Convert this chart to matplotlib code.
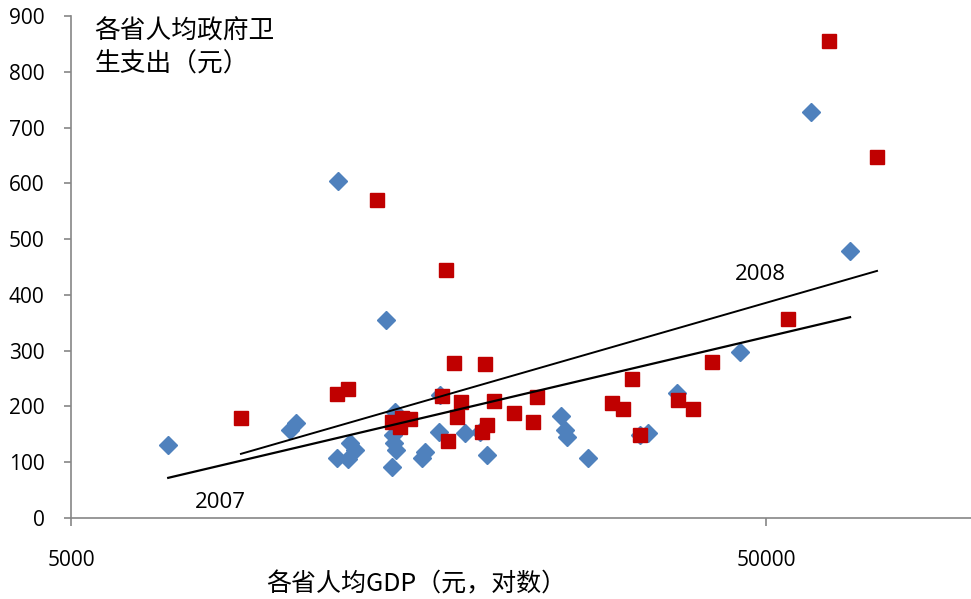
import matplotlib

matplotlib.use("Agg")
import matplotlib.pyplot as plt
from matplotlib.ticker import FixedLocator, NullLocator, FixedFormatter

# per-capita GDP (yuan) and per-capita gov. health spending (yuan), by province
gdp_2007 = [6900, 12110, 58030, 66050, 14200, 45880, 37230, 16980, 10330, 10540,
            12070, 12600, 12810, 12520, 14630, 14530, 14580, 14680, 14480, 16000,
            16160, 16920, 18450, 19380, 19840, 25350, 25690, 25860, 27730, 32930,
            33820]
health_2007 = [131, 604, 728, 479, 355, 298, 224, 220, 158, 170,
               108, 134, 122, 106, 190, 149, 134, 122, 91, 108,
               118, 154, 152, 154, 113, 183, 158, 145, 108, 149,
               152]

gdp_2008 = [61600, 72220, 13780, 17320, 17780, 19710, 53780, 41820, 12070, 12520,
            8780, 32070, 17090, 18200, 17960, 20300, 17430, 21700, 23410, 23100,
            19840, 19510, 30010, 31130, 32930, 37350, 39260, 14480, 14870, 14970,
            15370]
health_2008 = [855, 647, 570, 445, 278, 276, 357, 280, 222, 231,
               179, 249, 219, 208, 181, 210, 138, 188, 217, 172,
               167, 154, 206, 195, 149, 212, 195, 172, 163, 179,
               177]

# trend line end points
trend_2007_x = [6900, 66050]
trend_2007_y = [72, 360]
trend_2008_x = [8780, 72220]
trend_2008_y = [115, 443]

x_ticks = [5000, 50000]
x_tick_labels = ["5000", "50000"]
y_ticks = [0, 100, 200, 300, 400, 500, 600, 700, 800, 900]

plt.rcParams["font.family"] = ["Open Sans", "Noto Sans CJK SC", "DejaVu Sans"]
cjk = ["Noto Sans CJK SC", "DejaVu Sans"]

fig = plt.figure(figsize=(9.71, 5.99), dpi=100)
ax = fig.add_axes([71 / 971, 1 - 518 / 599, 900 / 971, 502 / 599])

ax.plot(gdp_2007, health_2007, linestyle="none", marker="D", ms=9,
        color="#4F81BD", zorder=3)
ax.plot(gdp_2008, health_2008, linestyle="none", marker="s", ms=10.5,
        color="#C00000", zorder=4)
ax.plot(trend_2007_x, trend_2007_y, color="black", lw=1.6, zorder=5)
ax.plot(trend_2008_x, trend_2008_y, color="black", lw=1.4, zorder=5)

ax.set_xscale("log")
ax.set_xlim(5000, 98600)
ax.set_ylim(0, 900)
ax.xaxis.set_major_locator(FixedLocator(x_ticks))
ax.xaxis.set_major_formatter(FixedFormatter(x_tick_labels))
ax.xaxis.set_minor_locator(NullLocator())
ax.set_yticks(y_ticks)

for side in ["top", "right"]:
    ax.spines[side].set_visible(False)
for side in ["left", "bottom"]:
    ax.spines[side].set_color("#868686")
    ax.spines[side].set_linewidth(1.2)

ax.tick_params(axis="y", direction="out", length=5, width=1.2, color="#868686",
               labelsize=15, pad=14)
ax.tick_params(axis="x", direction="out", length=6, width=1.2, color="#868686",
               labelsize=15, pad=17)

ax.text(8190, 27, "2007", fontsize=16, ha="center", va="center")
ax.text(49000, 437, "2008", fontsize=16, ha="center", va="center")

ax.text(0.026, 0.995, "各省人均政府卫\n生支出（元）", transform=ax.transAxes,
        fontsize=18.5, family=cjk, ha="left", va="top", linespacing=1.35)

fig.text(416 / 971, 1 - 584 / 599, "各省人均GDP（元，对数）", fontsize=18,
         family=cjk, ha="center", va="center")

fig.savefig("out.png", dpi=100)
